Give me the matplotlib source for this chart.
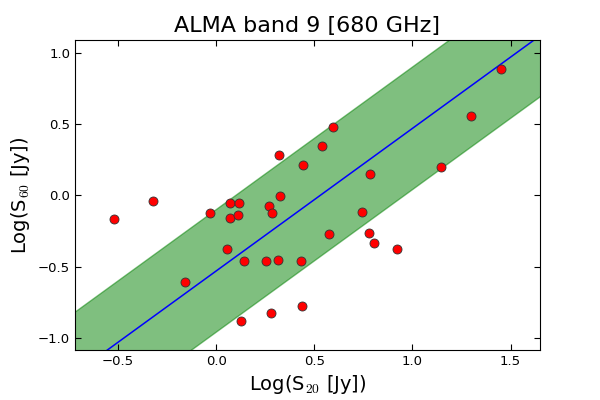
import numpy as np
import matplotlib
matplotlib.use("Agg")
import matplotlib.pyplot as plt

plt.rcParams['mathtext.fontset'] = 'cm'
plt.rcParams['xtick.direction'] = 'in'
plt.rcParams['ytick.direction'] = 'in'
plt.rcParams['xtick.top'] = True
plt.rcParams['ytick.right'] = True

# log fluxes
logS20 = [-0.522, -0.323, -0.158, -0.032, 0.070, 0.116, 0.070, 0.112, 0.056,
          0.141, 0.126, 0.255, 0.269, 0.284, 0.320, 0.323, 0.315, 0.279,
          0.442, 0.432, 0.439, 0.541, 0.595, 0.575, 0.743, 0.784, 0.781,
          0.804, 0.922, 1.143, 1.300, 1.452]
logS60 = [-0.168, -0.040, -0.608, -0.124, -0.054, -0.054, -0.161, -0.138, -0.376,
          -0.460, -0.884, -0.460, -0.072, -0.124, 0.283, -0.005, -0.451, -0.827,
          0.213, -0.460, -0.776, 0.346, 0.479, -0.271, -0.119, 0.147, -0.264,
          -0.334, -0.376, 0.199, 0.554, 0.884]

# slope-1 relation and its scatter band
offset = -0.53
width = 0.43

fig = plt.figure(figsize=(6, 4), dpi=100)
ax = fig.add_axes([0.125, 0.125, 0.775, 0.775])

xx = np.linspace(-1.0, 2.0, 10)
ax.fill_between(xx, xx + offset - width, xx + offset + width, color='g', alpha=0.5)
ax.plot(xx, xx + offset, 'b-', lw=1.1)
ax.plot(logS20, logS60, 'ro', ms=6.5, mec='#333333', mew=0.6)

ax.set_xlim(-0.72, 1.65)
ax.set_ylim(-1.085, 1.09)
ax.set_xticks([-0.5, 0.0, 0.5, 1.0, 1.5])
ax.set_yticks([-1.0, -0.5, 0.0, 0.5, 1.0])
ax.tick_params(labelsize=9.5, length=4, width=0.8)

ax.set_title('ALMA band 9 [680 GHz]', fontsize=16)
ax.set_xlabel(r'Log(S$_{20}$ [Jy])', fontsize=14)
ax.set_ylabel(r'Log(S$_{60}$ [Jy])', fontsize=14)

fig.savefig('out.png', dpi=100)
